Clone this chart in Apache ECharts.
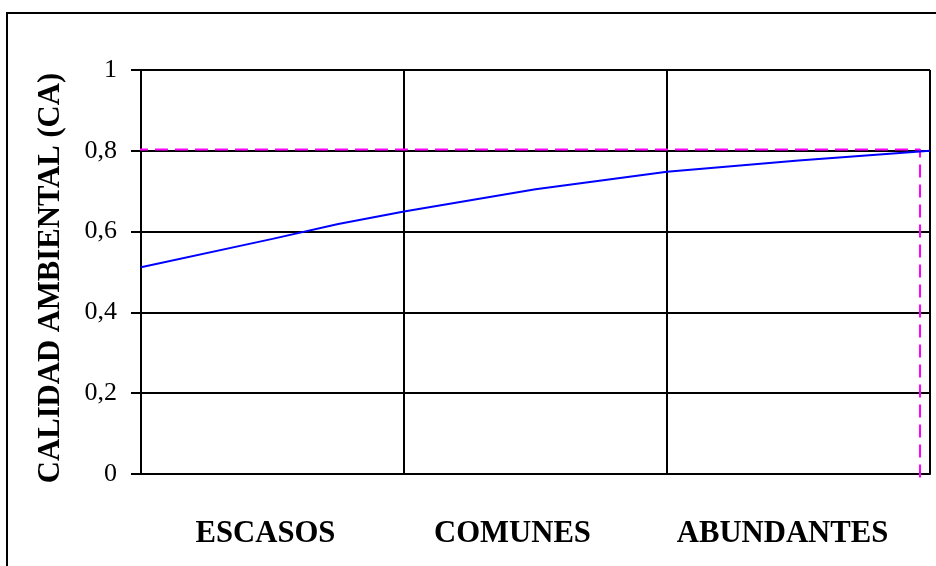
<!DOCTYPE html>
<html>
<head>
<meta charset="utf-8">
<script src="https://cdn.jsdelivr.net/npm/echarts@6/dist/echarts.min.js"></script>
<style>
  html, body { margin: 0; padding: 0; background: #fff; }
  #chart { width: 936px; height: 566px; }
</style>
</head>
<body>
<div id="chart"></div>
<script>
// Abundance classes along the x axis
const categories = ['ESCASOS', 'COMUNES', 'ABUNDANTES'];
// Position of each sample along the abundance scale (0 = start of ESCASOS, 3 = end of ABUNDANTES)
const abundancePos = [0, 0.5, 0.75, 1, 1.5, 2, 2.5, 3];
// Environmental quality (CA) at each position
const caValues = [0.512, 0.582, 0.619, 0.650, 0.705, 0.748, 0.776, 0.800];
// Dashed reference path: horizontal at the target CA, then down to the axis
const refPos = [-0.023, 2.962, 2.962];
const refValues = [0.803, 0.803, -0.02];
// Y tick values
const yTicks = [0, 0.2, 0.4, 0.6, 0.8, 1];

const yTitle = 'CALIDAD AMBIENTAL (CA)';
const serif = '"Liberation Serif", "Times New Roman", serif';
// leftward nudge (px) of each category label
const labelNudge = [7, 23, 16];

const chart = echarts.init(document.getElementById('chart'), null, { renderer: 'canvas' });

chart.setOption({
  animation: false,
  backgroundColor: '#fff',
  grid: { left: 141, right: 6, top: 70, bottom: 92, containLabel: false },
  graphic: [
    {
      type: 'rect',
      shape: { x: 7, y: 13, width: 960, height: 600 },
      style: { fill: 'none', stroke: '#000', lineWidth: 2 },
      silent: true
    },
    {
      type: 'text',
      x: 51,
      y: 278,
      rotation: Math.PI / 2,
      style: {
        text: yTitle,
        fontFamily: serif,
        fontWeight: 'bold',
        fontSize: 30.7,
        fill: '#000',
        align: 'center',
        verticalAlign: 'middle'
      },
      silent: true
    }
  ],
  xAxis: [
    {
      type: 'category',
      data: categories.map((c, i) => ({
        value: c,
        textStyle: { padding: [0, labelNudge[i] * 2, 0, 0] }
      })),
      boundaryGap: true,
      position: 'bottom',
      axisLine: { show: true, lineStyle: { color: '#000', width: 2 } },
      axisTick: { show: false },
      splitLine: { show: true, lineStyle: { color: '#000', width: 2 } },
      axisLabel: {
        interval: 0,
        margin: 45,
        fontFamily: serif,
        fontWeight: 'bold',
        fontSize: 30.7,
        color: '#000'
      }
    },
    {
      type: 'value',
      min: 0,
      max: 3,
      show: false
    }
  ],
  yAxis: {
    type: 'value',
    min: yTicks[0],
    max: yTicks[yTicks.length - 1],
    interval: yTicks[1] - yTicks[0],
    axisLine: { show: true, lineStyle: { color: '#000', width: 2 } },
    axisTick: { show: true, length: 10, lineStyle: { color: '#000', width: 2 } },
    splitLine: { show: true, lineStyle: { color: '#000', width: 2 } },
    axisLabel: {
      margin: 24,
      fontFamily: serif,
      fontSize: 26,
      color: '#000',
      formatter: v => String(+v.toFixed(1)).replace('.', ',')
    }
  },
  series: [
    {
      name: 'Referencia',
      type: 'line',
      xAxisIndex: 1,
      data: refPos.map((x, i) => [x, refValues[i]]),
      symbol: 'none',
      clip: false,
      z: 3,
      lineStyle: { color: '#FF00FF', width: 2, type: [13, 7] }
    },
    {
      name: 'CA',
      type: 'line',
      xAxisIndex: 1,
      data: abundancePos.map((x, i) => [x, caValues[i]]),
      symbol: 'none',
      smooth: false,
      z: 4,
      lineStyle: { color: '#0000FF', width: 2 }
    }
  ]
});
</script>
</body>
</html>
